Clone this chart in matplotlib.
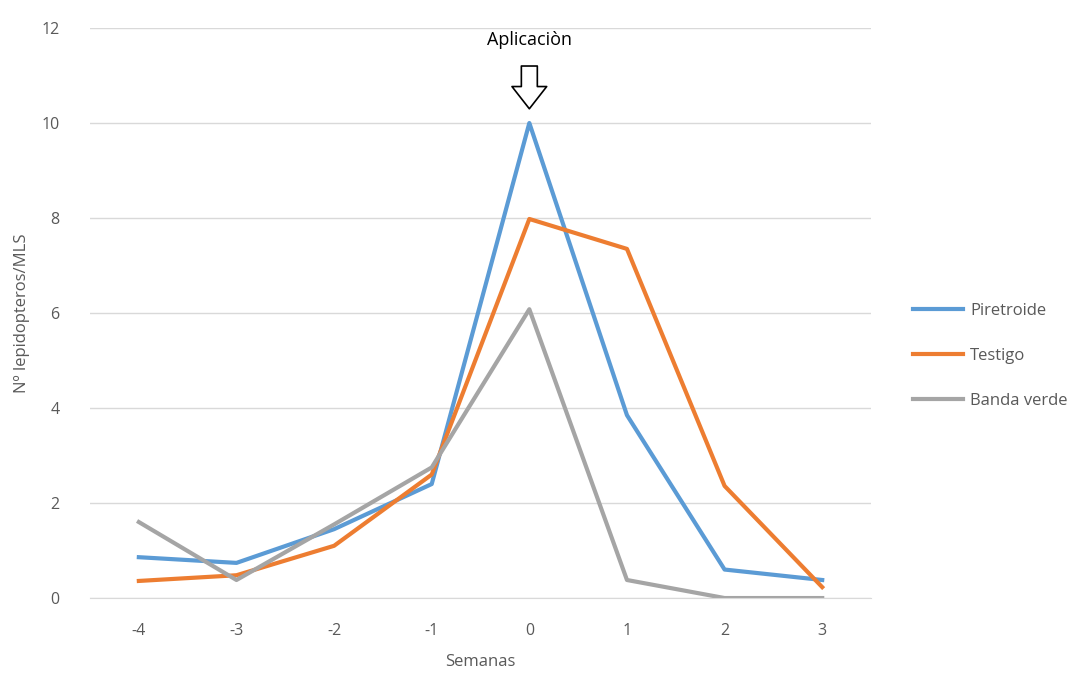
import matplotlib
matplotlib.use('Agg')
import matplotlib.pyplot as plt

# Data
semanas = [-4, -3, -2, -1, 0, 1, 2, 3]
piretroide = [0.86, 0.74, 1.45, 2.40, 10.0, 3.85, 0.60, 0.38]
testigo = [0.36, 0.48, 1.10, 2.60, 7.98, 7.35, 2.36, 0.23]
banda_verde = [1.60, 0.38, 1.55, 2.75, 6.08, 0.38, 0.0, 0.0]
yticks = [0, 2, 4, 6, 8, 10, 12]

plt.rcParams['font.family'] = ['Open Sans', 'DejaVu Sans']
plt.rcParams['axes.unicode_minus'] = False

fig = plt.figure(figsize=(10.9, 6.75), dpi=100)
ax = fig.add_axes([0.0826, 0.114, 0.7165, 0.8445])

ax.plot(semanas, piretroide, color='#5B9BD5', linewidth=3, label='Piretroide')
ax.plot(semanas, testigo, color='#ED7D31', linewidth=3, label='Testigo')
ax.plot(semanas, banda_verde, color='#A5A5A5', linewidth=3, label='Banda verde')

# Axes styling
ax.set_xlim(-4.5, 3.5)
ax.set_ylim(0, 12)
ax.set_xticks(semanas)
ax.set_yticks(yticks)
ax.tick_params(axis='both', length=0, labelsize=11.5, labelcolor='#595959')
ax.tick_params(axis='x', pad=18)
ax.tick_params(axis='y', pad=22)
ax.grid(axis='y', color='#D9D9D9', linewidth=1)
ax.set_axisbelow(True)
for side in ['top', 'right', 'left']:
    ax.spines[side].set_visible(False)
ax.spines['bottom'].set_color('#D9D9D9')

ax.set_xlabel('Semanas', fontsize=12, color='#595959', labelpad=11)
ax.set_ylabel('Nº lepidopteros/MLS', fontsize=12, color='#595959', labelpad=8)

# Application marker
ax.text(0, 11.75, 'Aplicaciòn', ha='center', va='center', fontsize=13, color='black')
ax.annotate('', xy=(0, 10.3), xytext=(0, 11.2),
            arrowprops=dict(arrowstyle='simple,head_length=1.6,head_width=2.5,tail_width=1.15',
                            fc='white', ec='black', lw=1.2, shrinkA=0, shrinkB=0,
                            mutation_scale=10))

leg = ax.legend(loc='center left', bbox_to_anchor=(1.035, 0.4246), frameon=False,
                fontsize=12, handlelength=3.0, handletextpad=0.4, labelspacing=1.75)
for t in leg.get_texts():
    t.set_color('#595959')

fig.savefig('out.png', dpi=100)
